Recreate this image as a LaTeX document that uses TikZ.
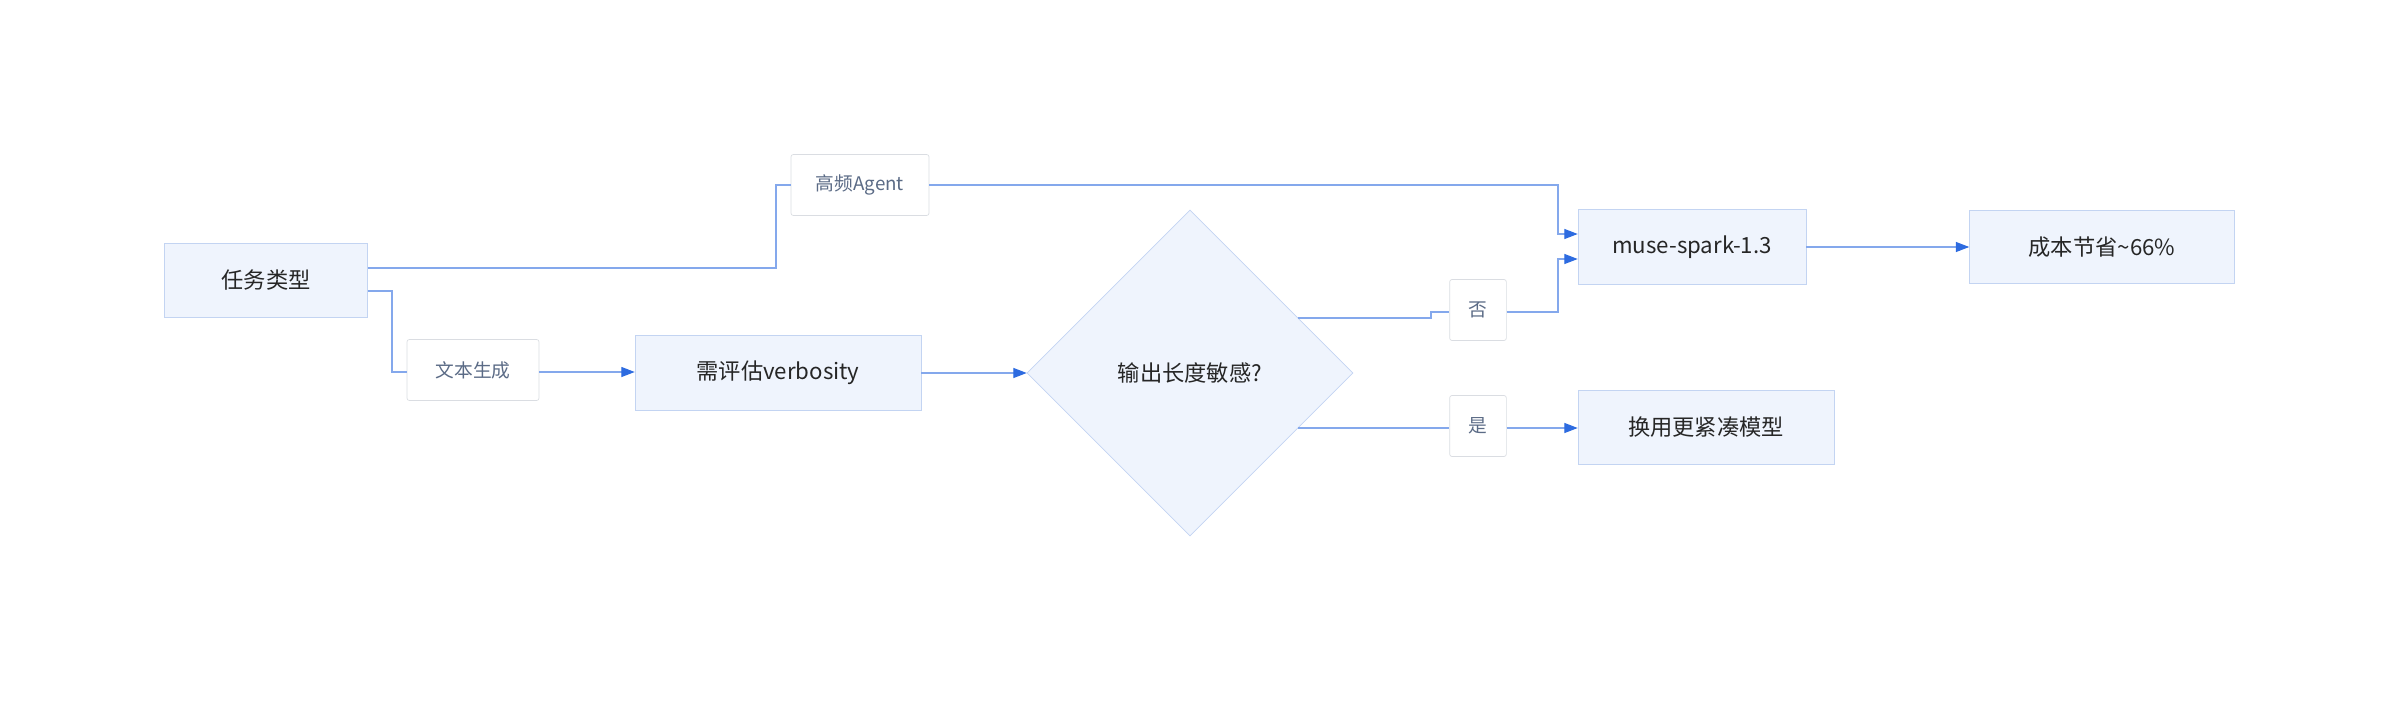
\documentclass[tikz,border=0pt]{standalone}
\usepackage{fontspec}
\setmainfont{Noto Sans CJK SC}
\usetikzlibrary{shapes.geometric,arrows.meta}
\definecolor{boxfill}{HTML}{EFF4FD}
\definecolor{boxdraw}{HTML}{C3D4F2}
\definecolor{lbldraw}{HTML}{DADDE2}
\definecolor{lbltext}{HTML}{5B6B86}
\definecolor{edge}{HTML}{84A8EC}
\definecolor{tip}{HTML}{2D6BE0}
\begin{document}
\begin{tikzpicture}[x=0.3mm,y=-0.3mm,
 box/.style={draw=boxdraw,fill=boxfill,line width=0.5pt,inner sep=0pt,font=\fontsize{19}{22}\selectfont,text=black!85},
 lbl/.style={draw=lbldraw,fill=white,rounded corners=2pt,line width=0.6pt,inner sep=0pt,font=\fontsize{16}{19}\selectfont,text=lbltext},
 e/.style={draw=edge,line width=0.9pt},
 a/.style={e,-{Triangle[length=4mm,width=3mm,fill=tip,color=tip]}}]
\useasboundingbox (0,0) rectangle (2400,702);
\node[box,minimum width=60.9mm,minimum height=22.2mm] (t) at (266,280) {任务类型};
\node[lbl,minimum width=41.4mm,minimum height=18.3mm] (ag) at (860,185) {高频Agent};
\node[lbl,minimum width=39.6mm,minimum height=18.3mm] (wb) at (473,370) {文本生成};
\node[box,minimum width=85.8mm,minimum height=22.5mm] (v) at (778,373) {需评估verbosity};
\node[box,diamond,minimum width=97.8mm,minimum height=97.8mm,aspect=1] (d) at (1190,373) {输出长度敏感?};
\node[lbl,minimum width=17mm,minimum height=18.3mm] (no) at (1478,310) {否};
\node[lbl,minimum width=17mm,minimum height=18.3mm] (yes) at (1478,426) {是};
\node[box,minimum width=68.4mm,minimum height=22.5mm] (m) at (1692,247) {muse-spark-1.3};
\node[box,minimum width=76.8mm,minimum height=22.2mm] (h) at (1706,427) {换用更紧凑模型};
\node[box,minimum width=79.5mm,minimum height=21.9mm] (c) at (2102,247) {成本节省\char"7E 66\%};
\draw[e] (t.east |- 0,268) -| (776,185) -- (ag.west);
\draw[a] (ag.east) -| (1558,234) -- (m.west |- 0,234);
\draw[e] (t.east |- 0,291) -| (392,372) -- (wb.west |- 0,372);
\draw[a] (wb.east |- 0,372) -- (v.west |- 0,372);
\draw[a] (v.east) -- (d.west);
\draw[e] (1298,318) -- (1431,318) -- (1431,312) -- (no.west |- 0,312);
\draw[a] (no.east |- 0,312) -| (1558,259) -- (m.west |- 0,259);
\draw[e] (1298,428) -- (yes.west |- 0,428);
\draw[a] (yes.east |- 0,428) -- (h.west |- 0,428);
\draw[a] (m.east) -- (c.west);
\end{tikzpicture}
\end{document}
